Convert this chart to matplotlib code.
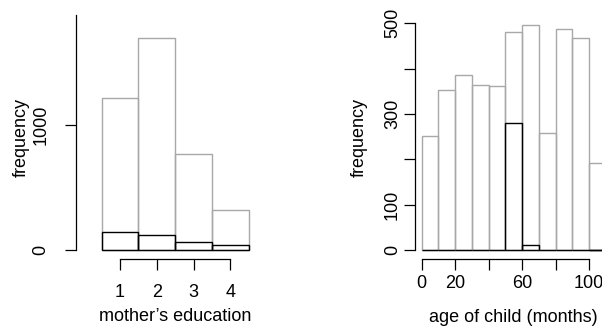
import numpy as np
import matplotlib
matplotlib.use("Agg")
import matplotlib.pyplot as plt

plt.rcParams['font.family'] = ['Liberation Sans', 'DejaVu Sans']
plt.rcParams['font.size'] = 13

# mother's education histogram (all children vs. subgroup)
edu_levels = [1, 2, 3, 4]
edu_all = [1213, 1699, 771, 317]
edu_sub = [141, 120, 61, 43]

# age of child histogram, 10-month bins
age_edges = [0, 10, 20, 30, 40, 50, 60, 70, 80, 90, 100, 110]
age_all = [252, 352, 386, 364, 362, 480, 496, 258, 487, 468, 192]
age_sub = [0, 0, 0, 0, 0, 279, 11, 0, 0, 0, 0]

W, H = 602, 329
fig = plt.figure(figsize=(W / 100, H / 100), dpi=100)
GRAY = '#a8a8a8'


def place(ax, left, right, top, bottom):
    # pixel box (top-left origin) -> figure fraction
    ax.set_position([left / W, 1 - bottom / H, (right - left) / W, (bottom - top) / H])


def style(ax, xpad, ypad):
    for s in ['top', 'right']:
        ax.spines[s].set_visible(False)
    for s in ['left', 'bottom']:
        ax.spines[s].set_linewidth(0.9)
    ax.tick_params(length=8, width=0.9)
    ax.tick_params(axis='x', pad=xpad)
    ax.tick_params(axis='y', pad=ypad, labelrotation=90)
    for lab in ax.get_yticklabels():
        lab.set_verticalalignment('center')


# left panel
ax1 = fig.add_axes([0, 0, 1, 1])
place(ax1, 76, 262, 15, 259.3)
ax1.bar(edu_levels, edu_all, width=1, fill=False, edgecolor=GRAY, linewidth=1)
ax1.bar(edu_levels, edu_sub, width=1, fill=False, edgecolor='black', linewidth=1)
ax1.set_xlim(1 + (76 - 120) / 36.8, 1 + (262 - 120) / 36.8)
ax1.set_ylim(-74.4, 1880)
ax1.spines['left'].set_bounds(0, 1880)
ax1.spines['bottom'].set_bounds(1, 4)
ax1.set_xticks(edu_levels)
ax1.set_yticks([0, 1000])
style(ax1, 10, 11)
ax1.set_xlabel('mother\u2019s education', va='center')
ax1.xaxis.set_label_coords(0.532, -0.236)
ax1.set_ylabel('frequency', va='center')
ax1.yaxis.set_label_coords(-0.296, 0.5)

# right panel
ax2 = fig.add_axes([0, 0, 1, 1])
place(ax2, 415, 640, 15, 259.3)
ax2.bar(age_edges[:-1], age_all, width=10, align='edge', fill=False, edgecolor=GRAY, linewidth=1)
ax2.bar(age_edges[:-1], age_sub, width=10, align='edge', fill=False, edgecolor='black', linewidth=1)
ax2.set_xlim((415 - 421.7) / 1.673, (640 - 421.7) / 1.673)
ax2.set_ylim(-20.5, 518)
ax2.spines['left'].set_bounds(0, 500)
ax2.spines['bottom'].set_bounds(0, 100)
ax2.set_xticks([0, 20, 40, 60, 80, 100])
ax2.set_xticklabels(['0', '20', '', '60', '', '100'])
ax2.set_yticks([0, 100, 200, 300, 400, 500])
ax2.set_yticklabels(['0', '100', '', '300', '', '500'])
style(ax2, 3.5, 2)
ax2.set_xlabel('age of child (months)', va='center')
ax2.xaxis.set_label_coords(0.437, -0.240)
ax2.set_ylabel('frequency', va='center')
ax2.yaxis.set_label_coords(-0.249, 0.5)

fig.savefig('out.png', dpi=100)
